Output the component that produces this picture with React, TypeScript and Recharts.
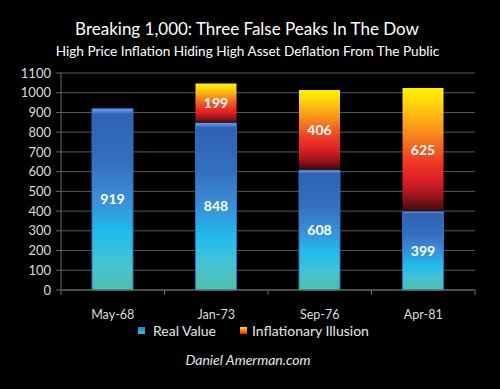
import React from "react";
import { Bar, BarChart, CartesianGrid, LabelList, XAxis, YAxis } from "recharts";

const periods = ["May-68", "Jan-73", "Sep-76", "Apr-81"];
const realValue = [919, 848, 608, 399];
const illusion = [0, 199, 406, 625];
const yTicks = [0, 100, 200, 300, 400, 500, 600, 700, 800, 900, 1000, 1100];

const data = periods.map((p, i) => ({
  period: p,
  real: realValue[i],
  illusion: illusion[i] || null,
}));

const FONT = "Lato, 'Open Sans', sans-serif";
const PLOT_LEFT = 61;
const PLOT_RIGHT = 475;
const BAND = (PLOT_RIGHT - PLOT_LEFT) / periods.length;

function XTick(props: any) {
  const { x, y, payload, index } = props;
  return (
    <g>
      <line x1={x + BAND / 2} x2={x + BAND / 2} y1={y - 8} y2={y - 3} stroke="#6a6a6a" />
      {index === 0 && <line x1={x - BAND / 2} x2={x - BAND / 2} y1={y - 8} y2={y - 3} stroke="#6a6a6a" />}
      <text x={x} y={y + 21} textAnchor="middle" fill="#dcdcdc" fontSize={12.5} fontFamily={FONT}>
        {payload.value}
      </text>
    </g>
  );
}

function ValueLabel(props: any) {
  const { x, y, width, height, value } = props;
  if (!value) return null;
  return (
    <text
      x={x + width / 2}
      y={y + height / 2 + 5}
      textAnchor="middle"
      fill="#ffffff"
      fontSize={14}
      fontWeight={700}
      fontFamily={FONT}
    >
      {value}
    </text>
  );
}

export default function App() {
  return (
    <div
      style={{
        position: "absolute",
        left: 0,
        top: 0,
        width: 500,
        height: 389,
        background: "#000",
        fontFamily: FONT,
        color: "#fff",
        overflow: "hidden",
      }}
    >
      <div style={{ position: "absolute", top: 18, left: 0, width: 494, textAlign: "center", fontSize: 17 }}>
        Breaking 1,000: Three False Peaks In The Dow
      </div>
      <div style={{ position: "absolute", top: 43, left: 0, width: 495, textAlign: "center", fontSize: 13.6 }}>
        High Price Inflation Hiding High Asset Deflation From The Public
      </div>

      <BarChart
        width={500}
        height={389}
        data={data}
        margin={{ top: 73, right: 500 - PLOT_RIGHT, left: PLOT_LEFT - 50, bottom: 69 }}
        barSize={41}
      >
        <defs>
          <linearGradient id="gReal" x1="0" y1="0" x2="0" y2="1">
            <stop offset="0%" stopColor="#6aa8ea" />
            <stop offset="1.5%" stopColor="#4f8ad6" />
            <stop offset="3%" stopColor="#2f62b2" />
            <stop offset="30%" stopColor="#3470c0" />
            <stop offset="50%" stopColor="#3a8ed8" />
            <stop offset="68%" stopColor="#1fbbec" />
            <stop offset="85%" stopColor="#45c4d4" />
            <stop offset="100%" stopColor="#4cc0a8" />
          </linearGradient>
          <linearGradient id="gIll" x1="0" y1="0" x2="0" y2="1">
            <stop offset="0%" stopColor="#fff200" />
            <stop offset="12%" stopColor="#ffd60a" />
            <stop offset="35%" stopColor="#f8901c" />
            <stop offset="60%" stopColor="#ee3a24" />
            <stop offset="75%" stopColor="#e01d26" />
            <stop offset="90%" stopColor="#8a1418" />
            <stop offset="100%" stopColor="#3a0a0a" />
          </linearGradient>
        </defs>
        <CartesianGrid vertical={false} stroke="#595959" />
        <XAxis
          dataKey="period"
          axisLine={{ stroke: "#6a6a6a" }}
          tickLine={false}
          tick={<XTick />}
          interval={0}
          height={30}
        />
        <YAxis
          domain={[0, 1100]}
          ticks={yTicks}
          interval={0}
          width={50}
          axisLine={{ stroke: "#6a6a6a" }}
          tickLine={{ stroke: "#6a6a6a" }}
          tickSize={5}
          tick={{ fill: "#dcdcdc", fontSize: 13, fontFamily: FONT, dx: -3 }}
        />
        <Bar dataKey="real" stackId="a" fill="url(#gReal)" stroke="#2a70c4" strokeWidth={1} isAnimationActive={false}>
          <LabelList dataKey="real" content={<ValueLabel />} />
        </Bar>
        <Bar dataKey="illusion" stackId="a" fill="url(#gIll)" isAnimationActive={false}>
          <LabelList dataKey="illusion" content={<ValueLabel />} />
        </Bar>
      </BarChart>

      <div style={{ position: "absolute", top: 322, left: 138, display: "flex", alignItems: "center", fontSize: 14, color: "#e6e6e6" }}>
        <span style={{ width: 7, height: 7, background: "linear-gradient(#2f7fd0, #2ac0e8)", marginRight: 8 }} />
        <span>Real Value</span>
        <span style={{ width: 7, height: 7, background: "linear-gradient(#ffe000, #f02020)", marginLeft: 24, marginRight: 5 }} />
        <span>Inflationary Illusion</span>
      </div>
      <div style={{ position: "absolute", top: 351, left: 0, width: 496, textAlign: "center", fontSize: 14, fontStyle: "italic", color: "#e6e6e6" }}>
        Daniel Amerman.com
      </div>
    </div>
  );
}
